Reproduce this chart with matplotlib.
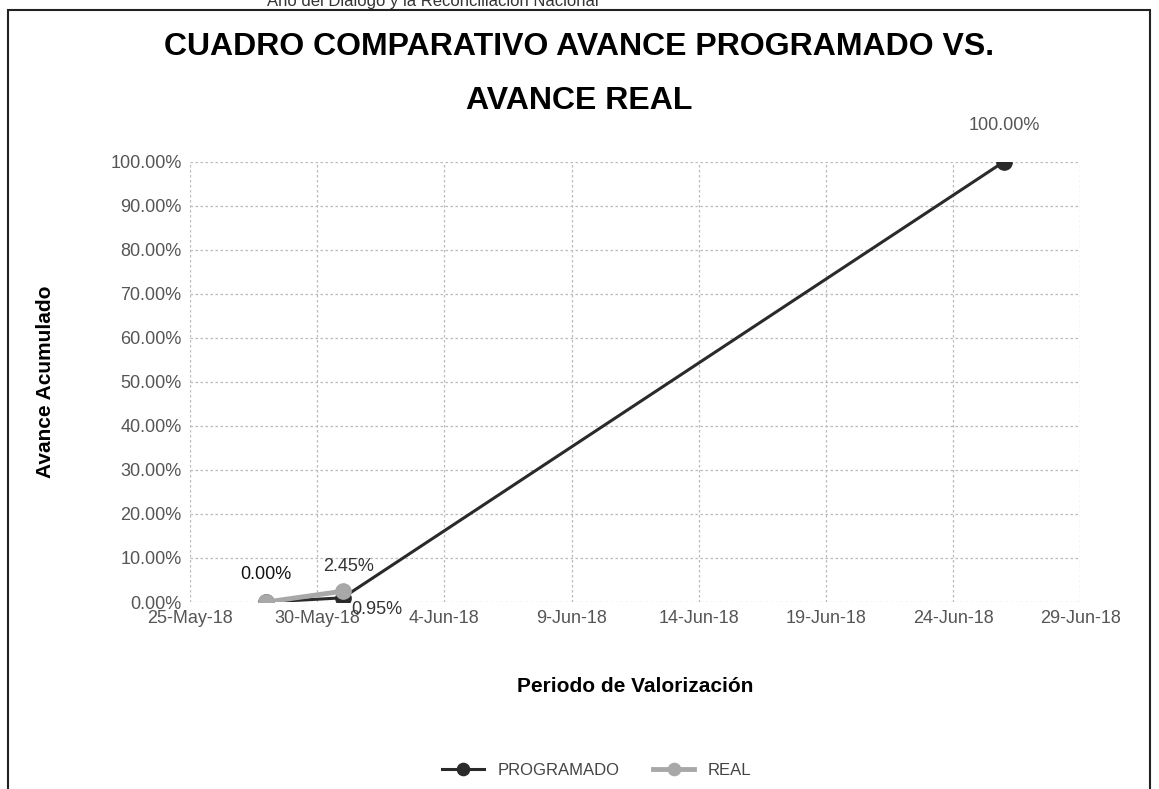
import datetime as dt

import matplotlib.dates as mdates
import matplotlib.pyplot as plt
from matplotlib.ticker import FixedLocator, FuncFormatter, MultipleLocator

# data
prog_dates = [dt.date(2018, 5, 28), dt.date(2018, 5, 31), dt.date(2018, 6, 26)]
prog_vals = [0.0, 0.0095, 1.0]
real_dates = [dt.date(2018, 5, 28), dt.date(2018, 5, 31)]
real_vals = [0.0, 0.0245]

x_start = dt.date(2018, 5, 25)
x_end = dt.date(2018, 6, 29)
tick_dates = [x_start + dt.timedelta(days=5 * k) for k in range(8)]

plt.rcParams["font.family"] = ["Liberation Sans", "DejaVu Sans"]

fig = plt.figure(figsize=(11.59, 7.89), dpi=100)
ax = fig.add_axes([0.164, 0.237, 0.768, 0.558])

ax.plot(real_dates, real_vals, color="#a8a8a8", lw=3.5, marker="o", ms=11,
        label="REAL", zorder=3)
ax.plot(prog_dates, prog_vals, color="#2a2a2a", lw=2.2, marker="o", ms=11,
        label="PROGRAMADO", zorder=2)

# data labels
lab_kw = dict(fontsize=13, color="#333333")
ax.annotate("0.00%", (real_dates[0], real_vals[0]), xytext=(0, 14),
            textcoords="offset points", ha="center", va="bottom",
            fontsize=13, color="#111111")
ax.annotate("2.45%", (real_dates[1], real_vals[1]), xytext=(4, 12),
            textcoords="offset points", ha="center", va="bottom", **lab_kw)
ax.annotate("0.95%", (prog_dates[1], prog_vals[1]), xytext=(6, -2),
            textcoords="offset points", ha="left", va="top", **lab_kw)
ax.annotate("100.00%", (prog_dates[2], prog_vals[2]), xytext=(0, 20),
            textcoords="offset points", ha="center", va="bottom",
            fontsize=13, color="#555555")

ax.set_xlim(mdates.date2num(x_start), mdates.date2num(x_end))
ax.set_ylim(0, 1.0)
ax.xaxis.set_major_locator(FixedLocator(mdates.date2num(tick_dates)))
ax.xaxis.set_major_formatter(FuncFormatter(
    lambda v, p: f"{mdates.num2date(v).day}-{mdates.num2date(v):%b-%y}"))
ax.yaxis.set_major_locator(MultipleLocator(0.1))
ax.yaxis.set_major_formatter(FuncFormatter(lambda v, p: f"{v * 100:.2f}%"))
ax.tick_params(length=0, labelsize=13, labelcolor="#555555", pad=6)

ax.grid(True, color="#bbbbbb", lw=0.9, ls=(0, (2, 2)))
for s in ax.spines.values():
    s.set_visible(False)
ax.set_axisbelow(True)

ax.set_xlabel("Periodo de Valorización", fontsize=15, fontweight="bold",
              labelpad=36)
ax.set_ylabel("Avance Acumulado", fontsize=15, fontweight="bold", labelpad=40)

fig.text(0.5, 0.94, "CUADRO COMPARATIVO AVANCE PROGRAMADO VS.", ha="center",
         va="center", fontsize=23, fontweight="bold")
fig.text(0.5, 0.872, "AVANCE REAL", ha="center", va="center", fontsize=23,
         fontweight="bold")
fig.text(0.23, 0.998, "Año del Diálogo y la Reconciliación Nacional",
         ha="left", va="center", fontsize=12, color="#333333")

handles, labels = ax.get_legend_handles_labels()
fig.legend(handles[::-1], labels[::-1], loc="center", ncol=2,
           bbox_to_anchor=(0.515, 0.024), frameon=False, fontsize=12,
           labelcolor="#444444", handlelength=2.5, columnspacing=2,
           markerscale=0.8)

# chart border
border = plt.Rectangle((0.007, -0.01), 0.985, 0.997, transform=fig.transFigure,
                       fill=False, lw=1.5, ec="#222222")
fig.add_artist(border)

fig.savefig("out.png", dpi=100)
